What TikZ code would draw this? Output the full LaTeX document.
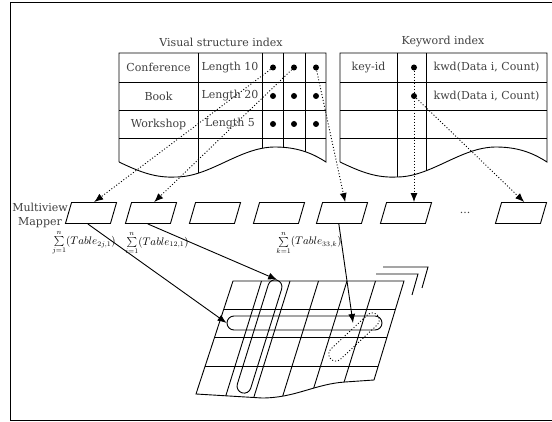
\documentclass[tikz,border=0pt]{standalone}
\usepackage{fontspec}
\setmainfont{DejaVu Serif}
\usetikzlibrary{arrows.meta}

\begin{document}
\begin{tikzpicture}[x=1pt,y=-1pt,
  txt/.style={text=black!75,font=\fontsize{11}{14}\selectfont,inner sep=0pt,align=center},
  rule/.style={draw=black,line width=0.9pt},
  dot/.style={circle,fill=black,inner sep=0pt,minimum size=6pt},
  mapbox/.style={rectangle,xslant=0.29,draw=black,line width=0.9pt,minimum height=21pt,minimum width=45pt,inner sep=0pt},
  dotarrow/.style={-{Latex[length=9pt,width=7pt]},line width=0.9pt,dash pattern=on 1pt off 2pt},
  solarrow/.style={-{Latex[length=9pt,width=7pt]},line width=0.9pt},
  pill/.style={draw=black,line width=0.9pt,rounded corners=7pt,minimum height=14pt,inner sep=0pt},
  sumlabel/.style={font=\fontsize{10.5}{12}\selectfont,inner sep=0pt}]
\useasboundingbox (0,0) rectangle (552,422);
\draw[rule] (553,2) -- (10,2) -- (10,420) -- (553,420);

% index tables
\def\tabshape{(0,162) -- (0,53) -- (207,53) -- (207,162) .. controls (196,155) and (181,147) .. (156,147) .. controls (121,147) and (91,177) .. (57,177) .. controls (36,178) and (21,172) .. (0,162)}
\begin{scope}[xshift=119pt]
\begin{scope}
\clip \tabshape;
\foreach \y in {82,110,138} \draw[rule] (0,\y) -- (207,\y);
\foreach \x in {79,143,164,186} \draw[rule] (\x,53) -- (\x,190);
\end{scope}
\draw[rule] \tabshape;
\end{scope}
\begin{scope}[xshift=340pt]
\begin{scope}
\clip \tabshape;
\foreach \y in {82,110,138} \draw[rule] (0,\y) -- (207,\y);
\foreach \x in {57,86} \draw[rule] (\x,53) -- (\x,190);
\end{scope}
\draw[rule] \tabshape;
\end{scope}

\node[txt] (vtitle) at (221,42) {Visual structure index};
\node[txt] (ktitle) at (443,42) {Keyword index};
\node[txt] (conf) at (158.5,67.5) {Conference};
\node[txt] (book) at (158.5,96) {Book};
\node[txt] (work) at (158.5,124) {Workshop};
\node[txt] (len10) at (230,67.5) {Length 10};
\node[txt] (len20) at (230,96) {Length 20};
\node[txt] (len5) at (230,124) {Length 5};
\node[txt] (keyid) at (368.5,67.5) {key-id};
\node[txt] (kwd1) at (486.5,67.5) {kwd(Data i, Count)};
\node[txt] (kwd2) at (486.5,96) {kwd(Data i, Count)};

\node[dot] (v11) at (273,67.5) {};
\node[dot] (v12) at (294,67.5) {};
\node[dot] (v13) at (316,67.5) {};
\node[dot] (v21) at (273,96) {};
\node[dot] (v22) at (294,96) {};
\node[dot] (v23) at (316,96) {};
\node[dot] (v31) at (273,124) {};
\node[dot] (v32) at (294,124) {};
\node[dot] (v33) at (316,124) {};
\node[dot] (k1) at (414,67.5) {};
\node[dot] (k2) at (414,96) {};

% multiview mapper
\node[txt] (mapper) at (40,215) {Multiview\\Mapper};
\node[mapbox] (m1) at (91,213) {};
\node[mapbox] (m2) at (151,213) {};
\node[mapbox] (m3) at (215,213) {};
\node[mapbox] (m4) at (279,213) {};
\node[mapbox] (m5) at (342,213) {};
\node[mapbox] (m6) at (406,213) {};
\node[txt] (more) at (465,213) {...};
\node[mapbox] (m7) at (521,213) {};

\node[sumlabel] (s1) at (84,243) {$\sum\limits_{j=1}^{n}(Table_{2j,1})$};
\node[sumlabel] (s2) at (157,243) {$\sum\limits_{i=1}^{n}(Table_{12,1})$};
\node[sumlabel] (s3) at (309,243) {$\sum\limits_{k=1}^{n}(Table_{33,k})$};

% view sheet
\def\sheet{(196,394) -- (233,281) -- (404,281) -- (374,380) -- (345,382) .. controls (315,384) and (295,398) .. (262,398) -- cycle}
\begin{scope}
\clip \sheet;
\foreach \y in {309,337,366} \draw[rule] (190,\y) -- (410,\y);
\foreach \x in {261.5,290,318.5,347,375.5} \draw[rule] (\x,281) -- (\x-37,400);
\end{scope}
\draw[rule] \sheet;
\draw[rule] (376,274) -- (418,274) -- (412,295);
\draw[rule] (383,267) -- (428,267) -- (422,288);

\node[pill,minimum width=118pt,rotate=72.7] (vp) at (259.5,336.5) {};
\node[pill,minimum width=155pt] (hp) at (304.5,323) {};
\node[pill,dash pattern=on 1pt off 2pt,minimum width=64pt,rotate=43] (dp) at (354,337) {};
\coordinate (cz) at (353,323);

\draw[dotarrow] (v11) -- (m1.north);
\draw[dotarrow] (v12) -- (m2.north);
\draw[dotarrow] (v13) -- (m5.north);
\draw[dotarrow] (k1) -- (k1 |- m6.north);
\draw[dotarrow] (k2) -- (m7.north);
\draw[solarrow] (m1.south) -- (hp.west);
\draw[solarrow] (m2.south) -- (vp.east);
\draw[solarrow] (m5.south) -- (cz);
\end{tikzpicture}
\end{document}
